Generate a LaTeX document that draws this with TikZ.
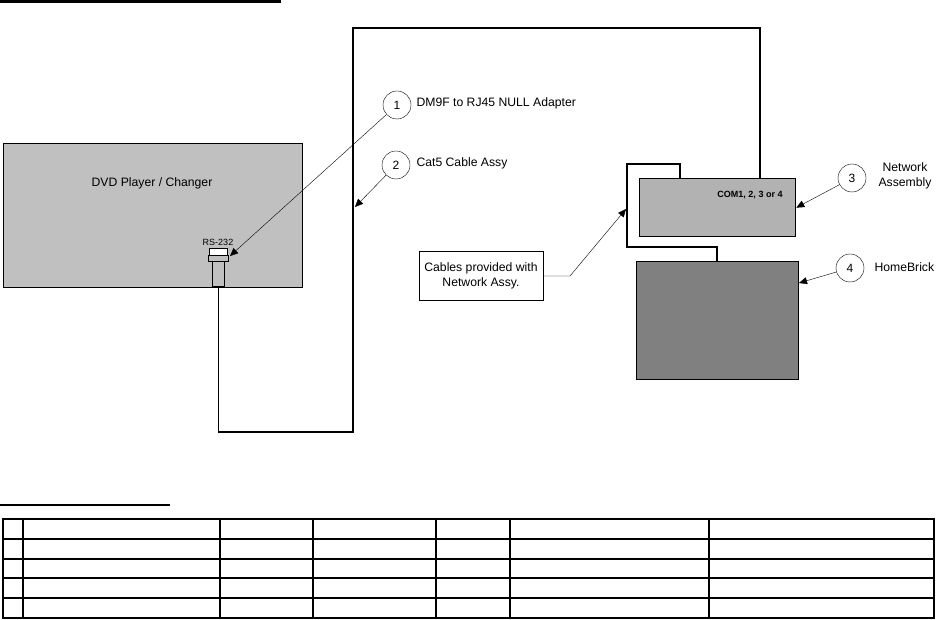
\documentclass[tikz,border=0pt]{standalone}
\usepackage{fontspec}
\setmainfont{Liberation Sans}
\usetikzlibrary{arrows.meta}

\definecolor{dvdgray}{HTML}{C0C0C0}
\definecolor{netgray}{HTML}{B2B2B2}
\definecolor{brickgray}{HTML}{808080}

\begin{document}
\begin{tikzpicture}[x=1pt,y=-1pt,
    box/.style={draw,line width=1.3pt,inner sep=0pt,anchor=north west},
    part/.style={draw,line width=0.8pt,inner sep=0pt,anchor=north west},
    num/.style={draw,circle,minimum size=28pt,inner sep=0pt,line width=0.4pt,font=\fontsize{12}{14}\selectfont},
    lbl/.style={font=\fontsize{12.2}{15}\selectfont},
    cable/.style={line width=1.6pt},
    callout/.style={-{Triangle[length=8pt,width=7pt]},line width=0.4pt},
    grid/.style={line width=1.5pt}]
                \useasboundingbox (0,0) rectangle (937,620);

                % headings
                \draw[line width=3pt] (0,1.5) -- (281,1.5);
                \draw[line width=2pt] (0,505) -- (170,505);

                % equipment
                \node[box,fill=dvdgray,minimum width=299pt,minimum height=144pt] (dvd) at (3,143) {};
                \node[lbl] (dvdname) at (152,183) {DVD Player / Changer};
                \node[font=\fontsize{9}{11}\selectfont] (rs) at (218,242) {RS-232};
                \node[part,fill=white,minimum width=18pt,minimum height=7pt] (plug) at (209,248) {};
                \node[part,fill=dvdgray,minimum width=20pt,minimum height=6pt] (flange) at (208,255) {};
                \node[part,fill=dvdgray,minimum width=12pt,minimum height=25pt] (body) at (212,261) {};

                \node[box,fill=netgray,minimum width=156pt,minimum height=58pt] (netasm) at (639,178) {};
                \node[font=\bfseries\fontsize{9}{11}\selectfont] (com) at (750,195) {COM1, 2, 3 or 4};
                \node[box,fill=brickgray,minimum width=162pt,minimum height=118pt] (brick) at (636,261) {};

                % cables
                \coordinate (up) at (760,0);
                \coordinate (lp) at (680,0);
                \coordinate (dn) at (717,0);
                \draw[cable] (body.south) |- (353,432) |- (760,28) -- (up |- netasm.north);
                \draw[cable] (lp |- netasm.north) |- (627,164) |- (717,247) -- (dn |- brick.north);

                % callouts
                \node[num] (n1) at (397,105) {1};
                \node[num] (n2) at (396,165) {2};
                \node[num] (n3) at (852,178) {3};
                \node[num] (n4) at (850,268) {4};
                \node[lbl,anchor=west] (t1) at (413,103) {DM9F to RJ45 NULL Adapter};
                \node[lbl,anchor=west] (t2) at (413,163) {Cat5 Cable Assy};
                \node[lbl,align=center] (t3) at (905,176) {Network\\Assembly};
                \node[lbl,anchor=west] (t4) at (871,267) {HomeBrick};
                \node[draw,line width=0.6pt,lbl,align=center,minimum width=124pt,minimum height=49pt] (note) at (481,276) {Cables provided with\\Network Assy.};

                \coordinate (a1) at (230,256);
                \coordinate (a2) at (355,207);
                \coordinate (a4) at (799,283);
                \coordinate (bend) at (570,276);
                \coordinate (a5) at (626,209);
                \draw[callout] (n1) -- (a1);
                \draw[callout] (n2) -- (a2);
                \draw[callout] (n3) -- (netasm.east);
                \draw[callout] (n4) -- (a4);
                \draw[callout] (note.east) -- (bend) -- (a5);

                % parts list
                \draw[grid] (3,519) rectangle (934,618);
                \draw[grid] (3,539) -- (934,539);
                \draw[grid] (3,559) -- (934,559);
                \draw[grid] (3,578) -- (934,578);
                \draw[grid] (3,598) -- (934,598);
                \draw[grid] (23,519) -- (23,618);
                \draw[grid] (220,519) -- (220,618);
                \draw[grid] (313,519) -- (313,618);
                \draw[grid] (436,519) -- (436,618);
                \draw[grid] (510,519) -- (510,618);
                \draw[grid] (709,519) -- (709,618);
            \end{tikzpicture}
\end{document}
